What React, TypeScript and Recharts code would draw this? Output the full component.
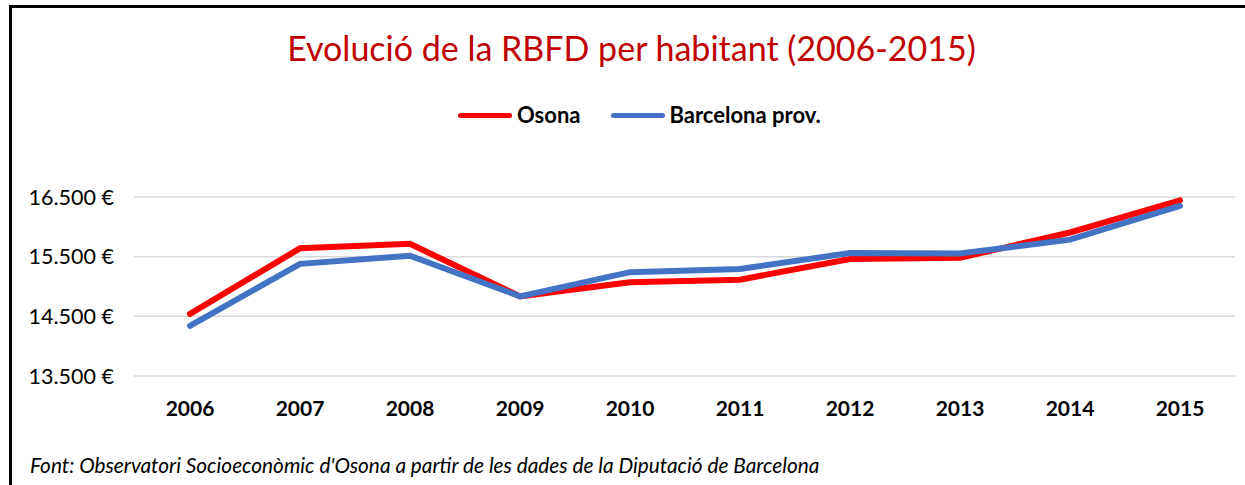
import { LineChart, Line, XAxis, YAxis, CartesianGrid } from "recharts";

const years = ["2006", "2007", "2008", "2009", "2010", "2011", "2012", "2013", "2014", "2015"];
const osona = [14540, 15640, 15715, 14835, 15070, 15115, 15460, 15480, 15905, 16445];
const barcelonaProv = [14340, 15380, 15515, 14835, 15240, 15295, 15560, 15555, 15785, 16350];
const yTicks = [13500, 14500, 15500, 16500];

const series = [
  { key: "osona", name: "Osona", color: "#FF0000" },
  { key: "barcelona", name: "Barcelona prov.", color: "#4472C4" },
];

const data = years.map((year, i) => ({
  year,
  osona: osona[i],
  barcelona: barcelonaProv[i],
}));

const FONT = "Lato, 'Open Sans', sans-serif";

const formatEuro = (v: number) => `${v.toLocaleString("de-DE")} €`;

export default function App() {
  return (
    <div
      style={{
        position: "absolute",
        left: 0,
        top: 0,
        width: 1245,
        height: 485,
        overflow: "hidden",
        background: "#fff",
        fontFamily: FONT,
      }}
    >
      {/* frame, right and bottom edges fall outside the picture */}
      <div
        style={{
          position: "absolute",
          left: 9,
          top: 5,
          width: 1260,
          height: 500,
          border: "3px solid #000",
        }}
      />

      <div
        style={{
          position: "absolute",
          top: 28,
          left: 0,
          width: 1263,
          textAlign: "center",
          color: "#C00000",
          fontSize: 34,
          lineHeight: "40px",
        }}
      >
        Evolució de la RBFD per habitant (2006-2015)
      </div>

      <div
        style={{
          position: "absolute",
          top: 101,
          left: 458,
          display: "flex",
          alignItems: "center",
          fontWeight: 700,
          fontSize: 22,
          lineHeight: "28px",
          color: "#000",
        }}
      >
        {series.map((s, i) => (
          <div
            key={s.key}
            style={{ display: "flex", alignItems: "center", marginRight: i === 0 ? 30 : 0 }}
          >
            <div
              style={{
                width: 54,
                height: 5,
                borderRadius: 3,
                background: s.color,
                marginRight: 5,
              }}
            />
            <span>{s.name}</span>
          </div>
        ))}
      </div>

      <div style={{ position: "absolute", left: 0, top: 0 }}>
        <LineChart
          width={1245}
          height={485}
          data={data}
          margin={{ top: 197, right: 10, bottom: 69, left: 10 }}
        >
          <CartesianGrid vertical={false} stroke="#d9d9d9" strokeWidth={1.5} />
          <XAxis
            dataKey="year"
            axisLine={false}
            tickLine={false}
            height={40}
            padding={{ left: 56, right: 55 }}
            tick={{ fill: "#000", fontSize: 21, fontWeight: 700, fontFamily: FONT }}
            tickMargin={19}
          />
          <YAxis
            domain={[13500, 16500]}
            ticks={yTicks}
            axisLine={false}
            tickLine={false}
            width={124}
            tickFormatter={formatEuro}
            tick={{ fill: "#000", fontSize: 21.5, fontFamily: FONT }}
            tickMargin={14}
          />
          {series.map((s) => (
            <Line
              key={s.key}
              type="linear"
              dataKey={s.key}
              name={s.name}
              stroke={s.color}
              strokeWidth={6}
              strokeLinecap="round"
              dot={false}
              activeDot={false}
              isAnimationActive={false}
            />
          ))}
        </LineChart>
      </div>

      <div
        style={{
          position: "absolute",
          left: 30,
          top: 452,
          fontStyle: "italic",
          fontSize: 20.8,
          lineHeight: "26px",
          color: "#000",
        }}
      >
        Font: Observatori Socioeconòmic d'Osona a partir de les dades de la Diputació de Barcelona
      </div>
    </div>
  );
}
